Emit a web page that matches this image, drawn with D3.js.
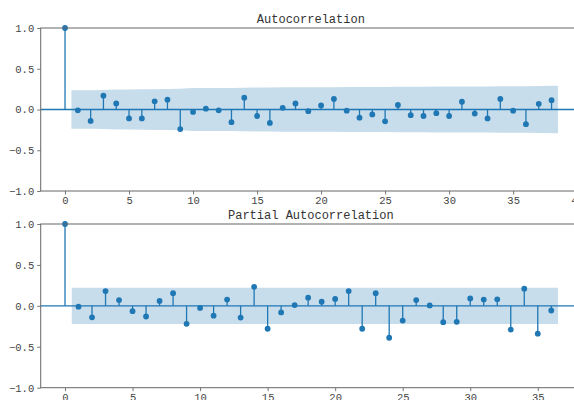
<!DOCTYPE html>
<html>
<head>
<meta charset="utf-8">
<script src="https://cdn.jsdelivr.net/npm/d3@7"></script>
<style>
  html, body { margin: 0; padding: 0; background: #fff; }
  svg { display: block; }
  text { font-family: "Liberation Mono", "DejaVu Sans Mono", monospace; }
</style>
</head>
<body>
<svg id="chart" width="574" height="400"></svg>
<script>
// ---- data ----
const acfTitle = "Autocorrelation";
const pacfTitle = "Partial Autocorrelation";
const acfValues = [1.0, -0.01, -0.14, 0.17, 0.075, -0.11, -0.11, 0.10, 0.12, -0.24,
  -0.03, 0.01, -0.01, -0.155, 0.145, -0.08, -0.165, 0.02, 0.075, -0.02,
  0.05, 0.13, -0.015, -0.10, -0.06, -0.145, 0.055, -0.07, -0.08, -0.045,
  -0.08, 0.095, -0.05, -0.11, 0.13, -0.015, -0.18, 0.07, 0.115];
// confidence band half-width for lags 1..38
const acfBand = [0.235, 0.235, 0.239, 0.245, 0.246, 0.248, 0.250, 0.252, 0.254, 0.264,
  0.264, 0.264, 0.264, 0.267, 0.269, 0.270, 0.273, 0.273, 0.274, 0.274,
  0.274, 0.276, 0.276, 0.277, 0.277, 0.279, 0.279, 0.280, 0.281, 0.281,
  0.282, 0.283, 0.283, 0.285, 0.286, 0.286, 0.289, 0.290];
const pacfValues = [1.0, -0.01, -0.14, 0.18, 0.07, -0.065, -0.13, 0.06, 0.155, -0.22,
  -0.025, -0.12, 0.077, -0.143, 0.232, -0.28, -0.08, 0.01, 0.10, 0.05,
  0.085, 0.18, -0.28, 0.155, -0.39, -0.18, 0.07, 0.005, -0.20, -0.195,
  0.09, 0.077, 0.08, -0.29, 0.21, -0.34, -0.057];
const pacfBandHalf = 0.222;
const yTicks = [-1.0, -0.5, 0.0, 0.5, 1.0];
const xTicks = [0, 5, 10, 15, 20, 25, 30, 35, 40];

const C0 = "#1f77b4";
const svg = d3.select("#chart");

function panel(opts) {
  const { top, bottom, xDomain, values, band, title } = opts;
  const left = 40.7, right = 581;
  const x = d3.scaleLinear().domain(xDomain).range([left, right]);
  const y = d3.scaleLinear().domain([-1, 1]).range([bottom, top]);
  const g = svg.append("g");

  // band
  const nl = values.length - 1;
  const bandPts = [];
  for (let k = 1; k <= nl; k++) {
    const lagPos = k === 1 ? 0.5 : (k === nl ? nl + 0.5 : k);
    bandPts.push({ lag: lagPos, h: band[k - 1] });
  }
  g.append("path")
    .datum(bandPts)
    .attr("d", d3.area().x(d => x(d.lag)).y0(d => y(-d.h)).y1(d => y(d.h)))
    .attr("fill", C0).attr("fill-opacity", 0.25);

  // zero line
  g.append("line")
    .attr("x1", left).attr("x2", right)
    .attr("y1", y(0)).attr("y2", y(0))
    .attr("stroke", C0).attr("stroke-width", 1.3);

  // stems
  const pts = values.map((v, i) => ({ lag: i, v }));
  g.selectAll("line.stem").data(pts).join("line")
    .attr("class", "stem")
    .attr("x1", d => x(d.lag)).attr("x2", d => x(d.lag))
    .attr("y1", y(0)).attr("y2", d => y(d.v))
    .attr("stroke", C0).attr("stroke-width", 1.3);
  g.selectAll("circle").data(pts).join("circle")
    .attr("cx", d => x(d.lag)).attr("cy", d => y(d.v))
    .attr("r", 2.9).attr("fill", C0);

  // axes
  const yAxis = d3.axisLeft(y).tickValues(yTicks).tickFormat(d3.format(".1f")).tickSize(3.5).tickPadding(3);
  const ya = g.append("g").attr("transform", `translate(${left},0)`).call(yAxis);
  const xAxis = d3.axisBottom(x).tickValues(xTicks).tickFormat(d3.format("d")).tickSize(3.5).tickPadding(2);
  const xa = g.append("g").attr("transform", `translate(0,${bottom})`).call(xAxis);
  [ya, xa].forEach(a => {
    a.select(".domain").remove();
    a.selectAll("line").attr("stroke", "#555").attr("stroke-width", 0.8);
    a.selectAll("text").attr("fill", "#444").attr("font-size", 10.5)
      .attr("font-family", '"Liberation Mono", monospace');
  });
  ya.selectAll("text").text(d => d3.format(".1f")(d).replace("-", "\u2212"));

  // spines
  g.append("rect")
    .attr("x", left).attr("y", top)
    .attr("width", right - left).attr("height", bottom - top)
    .attr("fill", "none").attr("stroke", "#666").attr("stroke-width", 1);

  // title
  g.append("text")
    .attr("x", (left + right) / 2).attr("y", top - 5)
    .attr("text-anchor", "middle")
    .attr("font-size", 12).attr("fill", "#333")
    .text(title);
}

panel({ top: 28, bottom: 191, xDomain: [-1.9, 40.3], values: acfValues, band: acfBand, title: acfTitle });
const pacfBand = pacfValues.slice(1).map(() => pacfBandHalf);
panel({ top: 224, bottom: 387.7, xDomain: [-1.8, 38.2], values: pacfValues, band: pacfBand, title: pacfTitle });
</script>
</body>
</html>
